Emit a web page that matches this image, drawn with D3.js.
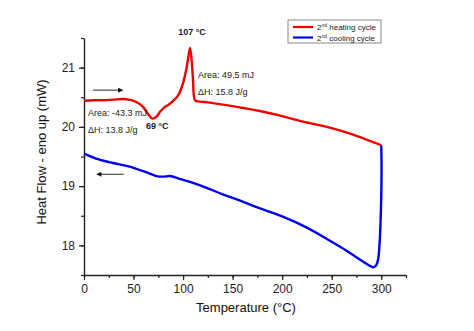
<!DOCTYPE html>
<html>
<head>
<meta charset="utf-8">
<script src="https://cdn.jsdelivr.net/npm/d3@7"></script>
<style>
  body { margin: 0; background: #fff; }
  svg { font-family: "Liberation Sans", Arial, sans-serif; }
</style>
</head>
<body>
<svg width="474" height="331"></svg>
<script>
// DSC curves (temperature in °C, heat flow in mW)
const heatTemp = [0, 10, 20, 30, 40, 45, 50, 55, 60, 65, 69, 73, 77, 81, 85, 90, 95, 100, 103, 105, 107, 108.5, 110, 112, 115, 127, 157, 180, 200, 221, 240, 258, 280, 300];
const heatFlow = [20.44, 20.45, 20.45, 20.46, 20.47, 20.46, 20.44, 20.40, 20.33, 20.21, 20.14, 20.17, 20.26, 20.33, 20.37, 20.44, 20.53, 20.74, 20.95, 21.15, 21.33, 21.15, 20.80, 20.45, 20.43, 20.41, 20.33, 20.26, 20.18, 20.09, 20.02, 19.94, 19.82, 19.69];

const coolTemp = [300, 300.3, 300.2, 299.7, 299.1, 298.3, 296.8, 294.8, 292, 289, 283, 275, 265, 250, 225, 200, 175, 157, 140, 127, 107, 95, 87, 80, 73, 65, 46, 29, 15, 0];
const coolFlow = [19.69, 19.40, 19.00, 18.60, 18.30, 18.02, 17.76, 17.66, 17.63, 17.65, 17.71, 17.80, 17.91, 18.06, 18.30, 18.49, 18.64, 18.76, 18.86, 18.95, 19.07, 19.13, 19.17, 19.16, 19.17, 19.22, 19.33, 19.39, 19.45, 19.55];

const xTicks = [0, 50, 100, 150, 200, 250, 300];
const yTicks = [18, 19, 20, 21];
const seriesNames = ["heating cycle", "cooling cycle"];

const svg = d3.select('svg');

const x = d3.scaleLinear().domain([0, 325]).range([84, 406]);
const y = d3.scaleLinear().domain([17.5, 21.5]).range([275, 38]);

// axes: major ticks with labels, minor ticks in between
const xMinor = d3.range(0, 326, 25);
const yMinor = d3.range(17.5, 21.51, 0.5);

svg.append('g')
  .attr('transform', 'translate(0,275)')
  .call(d3.axisBottom(x).tickValues(xMinor).tickSize(3).tickFormat(''))
  .call(g => g.select('.domain').remove())
  .selectAll('line').attr('stroke', '#222').attr('stroke-width', 1.2);

svg.append('g')
  .attr('transform', 'translate(84,0)')
  .call(d3.axisLeft(y).tickValues(yMinor).tickSize(3).tickFormat(''))
  .call(g => g.select('.domain').remove())
  .selectAll('line').attr('stroke', '#222').attr('stroke-width', 1.2);

const xAxis = svg.append('g')
  .attr('transform', 'translate(0,275)')
  .call(d3.axisBottom(x).tickValues(xTicks).tickFormat(d3.format('d'))
    .tickSize(5).tickSizeOuter(0).tickPadding(4));

const yAxis = svg.append('g')
  .attr('transform', 'translate(84,0)')
  .call(d3.axisLeft(y).tickValues(yTicks).tickFormat(d3.format('d'))
    .tickSize(5).tickSizeOuter(0).tickPadding(4));

[xAxis, yAxis].forEach(g => {
  g.select('.domain').attr('stroke', '#222').attr('stroke-width', 1.4);
  g.selectAll('line').attr('stroke', '#222').attr('stroke-width', 1.2);
  g.selectAll('text').attr('font-size', 12).attr('fill', '#222')
    .attr('font-family', '"Liberation Sans", Arial, sans-serif');
});

// axis titles
svg.append('text')
  .attr('x', 246).attr('y', 312)
  .attr('text-anchor', 'middle')
  .attr('font-size', 13).attr('fill', '#111')
  .text('Temperature (°C)');

svg.append('text')
  .attr('transform', 'translate(46,152) rotate(-90)')
  .attr('text-anchor', 'middle')
  .attr('font-size', 13).attr('fill', '#111')
  .text('Heat Flow - eno up (mW)');

// curves
const line = d3.line()
  .x(d => x(d[0]))
  .y(d => y(d[1]))
  .curve(d3.curveCatmullRom.alpha(0.5));

const heating = heatTemp.map((t, i) => [t, heatFlow[i]]);
const cooling = coolTemp.map((t, i) => [t, coolFlow[i]]);

svg.append('path')
  .datum(cooling)
  .attr('d', line)
  .attr('fill', 'none')
  .attr('stroke', '#0000ee')
  .attr('stroke-width', 2.4);

svg.append('path')
  .datum(heating)
  .attr('d', line)
  .attr('fill', 'none')
  .attr('stroke', '#ee0000')
  .attr('stroke-width', 2.4);

// arrows showing scan direction
const defs = svg.append('defs');
defs.append('marker')
  .attr('id', 'head')
  .attr('viewBox', '0 0 10 10')
  .attr('refX', 9).attr('refY', 5)
  .attr('markerWidth', 7).attr('markerHeight', 5)
  .attr('markerUnits', 'userSpaceOnUse')
  .attr('orient', 'auto')
  .append('path').attr('d', 'M0,0L10,5L0,10Z').attr('fill', '#111');

const arrows = [
  { from: [9, 20.62], to: [39, 20.62] },
  { from: [40, 19.2], to: [13, 19.2] }
];
svg.selectAll('.arrow')
  .data(arrows)
  .enter()
  .append('line')
  .attr('x1', d => x(d.from[0])).attr('y1', d => y(d.from[1]))
  .attr('x2', d => x(d.to[0])).attr('y2', d => y(d.to[1]))
  .attr('stroke', '#111').attr('stroke-width', 0.9)
  .attr('marker-end', 'url(#head)');

// peak annotations
const notes = [
  { t: 4, v: 20.19, text: 'Area: -43.3 mJ', bold: false, anchor: 'start' },
  { t: 4, v: 19.905, text: 'ΔH: 13.8 J/g', bold: false, anchor: 'start' },
  { t: 74, v: 19.96, text: '69 °C', bold: true, anchor: 'middle' },
  { t: 109, v: 21.55, text: '107 °C', bold: true, anchor: 'middle' },
  { t: 115, v: 20.82, text: 'Area: 49.5 mJ', bold: false, anchor: 'start' },
  { t: 115, v: 20.53, text: 'ΔH: 15.8 J/g', bold: false, anchor: 'start' }
];
svg.selectAll('.note')
  .data(notes)
  .enter()
  .append('text')
  .attr('x', d => x(d.t)).attr('y', d => y(d.v))
  .attr('text-anchor', d => d.anchor)
  .attr('font-size', 9)
  .attr('font-weight', d => d.bold ? 'bold' : 'normal')
  .attr('fill', '#222')
  .text(d => d.text);

// legend
const legend = svg.append('g').attr('transform', 'translate(288,20)');
legend.append('rect')
  .attr('width', 93).attr('height', 23)
  .attr('fill', '#fff').attr('stroke', '#888').attr('stroke-width', 1);

const colors = ['#ee0000', '#0000ee'];
const items = legend.selectAll('.item')
  .data(seriesNames)
  .enter()
  .append('g')
  .attr('transform', (d, i) => `translate(0,${7 + i * 10.5})`);

items.append('line')
  .attr('x1', 5).attr('x2', 25)
  .attr('stroke', (d, i) => colors[i]).attr('stroke-width', 2.2);

const lt = items.append('text')
  .attr('x', 29).attr('y', 3)
  .attr('font-size', 8).attr('fill', '#222');
lt.append('tspan').text('2');
lt.append('tspan').attr('font-size', 5).attr('dy', -3).text('nd');
lt.append('tspan').attr('dy', 3).text(d => ' ' + d);
</script>
</body>
</html>
